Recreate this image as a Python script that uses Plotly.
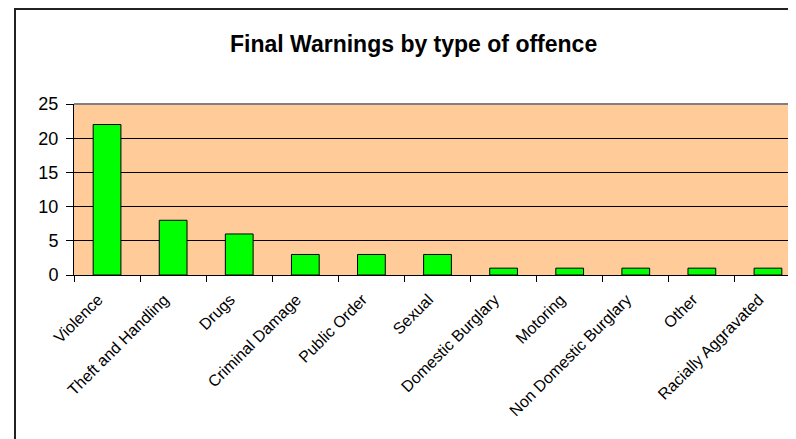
import plotly.graph_objects as go

categories = ["Violence", "Theft and Handling", "Drugs", "Criminal Damage", "Public Order",
              "Sexual", "Domestic Burglary", "Motoring", "Non Domestic Burglary", "Other",
              "Racially Aggravated"]
values = [22, 8, 6, 3, 3, 3, 1, 1, 1, 1, 1]
title_text = "Final Warnings by type of offence"

# page has an 8px body margin, so figure coords = screen coords - 8
OFF = 8
W, H = 796, 439
L = 74 - OFF
R = W - (801 - OFF)
T = 104 - OFF
B = H - (275 - OFF)
plot_w = W - L - R
plot_h = H - T - B

def px_to_paper_x(px):
    return (px - OFF - L) / plot_w

def px_to_paper_y(py):
    return (H - B - (py - OFF)) / plot_h

fig = go.Figure()
fig.add_trace(go.Bar(
    x=categories, y=values,
    marker=dict(color="#00FF00", line=dict(color="black", width=1)),
))

fig.update_layout(
    width=W, height=H,
    margin=dict(l=L, r=R, t=T, b=B),
    paper_bgcolor="white",
    plot_bgcolor="#FFCC99",
    bargap=0.58,
    showlegend=False,
    font=dict(family="Liberation Sans, Arial, sans-serif", color="black"),
    xaxis=dict(
        type="category",
        range=[-0.5, 10.5],
        showline=True, linecolor="black", linewidth=1,
        ticks="outside", ticklen=6, tickcolor="black",
        tickson="boundaries",
        tickangle=-45,
        tickfont=dict(size=16, color="black"),
        showgrid=False,
        ticklabelshift=-9,
        ticklabelstandoff=8,
    ),
    yaxis=dict(
        range=[0, 25], dtick=5,
        showline=True, linecolor="black", linewidth=1,
        ticks="outside", ticklen=7, tickcolor="black",
        tickfont=dict(size=18, color="black"),
        showgrid=True, gridcolor="black", gridwidth=1,
        zeroline=False,
        ticklabelstandoff=4,
    ),
    shapes=[
        dict(type="line", xref="paper", yref="paper", x0=0, x1=1, y0=1, y1=1,
             line=dict(color="#808080", width=2)),
        dict(type="rect", xref="paper", yref="paper",
             x0=px_to_paper_x(15), x1=px_to_paper_x(900),
             y0=px_to_paper_y(600), y1=px_to_paper_y(9),
             line=dict(color="#222222", width=2), fillcolor="rgba(0,0,0,0)"),
    ],
    annotations=[
        dict(text="<b>" + title_text + "</b>", xref="paper", yref="paper",
             x=px_to_paper_x(413), y=px_to_paper_y(44), xanchor="center", yanchor="middle",
             showarrow=False, font=dict(size=23, color="black",
                                        family="Liberation Sans, Arial, sans-serif")),
    ],
)

fig.write_html("out.html")
